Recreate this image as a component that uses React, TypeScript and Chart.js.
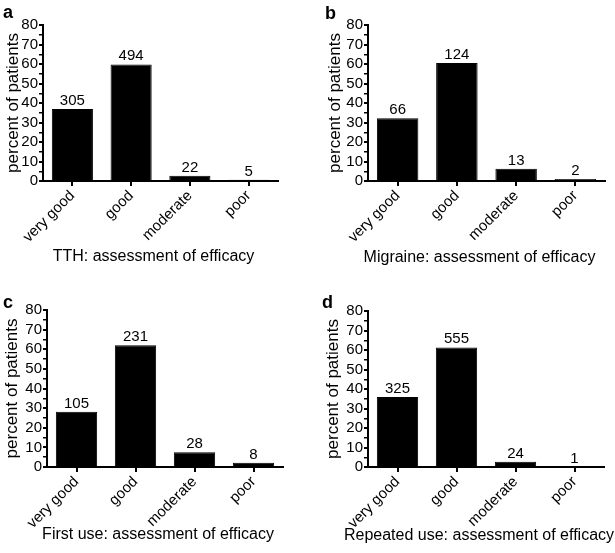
import React, { useEffect, useRef } from "react";
import { Chart, registerables } from "chart.js";

Chart.register(...registerables);

// ---------- data ----------
const categories = ["very good", "good", "moderate", "poor"];
const yTitle = "percent of patients";
const yMin = 0;
const yMax = 80;
const yStep = 10;

const tthPercent = [36.9, 59.8, 2.7, 0.6];
const tthCounts = [305, 494, 22, 5];
const migrainePercent = [32.2, 60.5, 6.3, 1.0];
const migraineCounts = [66, 124, 13, 2];
const firstUsePercent = [28.2, 62.1, 7.5, 2.2];
const firstUseCounts = [105, 231, 28, 8];
const repeatedPercent = [35.9, 61.3, 2.7, 0.1];
const repeatedCounts = [325, 555, 24, 1];

const panelLetters = ["a", "b", "c", "d"];
const xTitles = [
  "TTH: assessment of efficacy",
  "Migraine: assessment of efficacy",
  "First use: assessment of efficacy",
  "Repeated use: assessment of efficacy",
];
const panelPercents = [tthPercent, migrainePercent, firstUsePercent, repeatedPercent];
const panelCounts = [tthCounts, migraineCounts, firstUseCounts, repeatedCounts];

// ---------- layout ----------
const FONT = '"Liberation Sans", Arial, Helvetica, sans-serif';
const layouts = [
  { left: 0, top: 0, width: 300, height: 275, yAxisWidth: 43, padTop: 25, padRight: 22, xAxisHeight: 94, xTitleY: 257, yTitlePad: 3, letterX: 3, letterY: 18 },
  { left: 320, top: 0, width: 295, height: 275, yAxisWidth: 48, padTop: 25, padRight: 10, xAxisHeight: 94, xTitleY: 258, yTitlePad: 5, letterX: 5, letterY: 19 },
  { left: 0, top: 280, width: 300, height: 273, yAxisWidth: 47, padTop: 30, padRight: 17, xAxisHeight: 86, xTitleY: 255, yTitlePad: 2, letterX: 3, letterY: 28 },
  { left: 320, top: 280, width: 295, height: 273, yAxisWidth: 48, padTop: 31, padRight: 11, xAxisHeight: 86, xTitleY: 256, yTitlePad: 3, letterX: 2, letterY: 28 },
];
const xTitleShift = -7;

const annotate = {
  id: "annotate",
  afterDatasetsDraw(chart: any, _args: any, opts: any) {
    const ctx = chart.ctx;
    const meta = chart.getDatasetMeta(0);
    const area = chart.chartArea;
    ctx.save();
    ctx.fillStyle = "#000";
    ctx.font = `15px ${FONT}`;
    ctx.textAlign = "center";
    ctx.textBaseline = "alphabetic";
    meta.data.forEach((bar: any, i: number) => {
      ctx.fillText(String(opts.counts[i]), bar.x, bar.y - 4);
    });
    // x-axis title
    ctx.font = `16px ${FONT}`;
    ctx.textBaseline = "middle";
    ctx.fillText(opts.xTitle, (area.left + area.right) / 2 + xTitleShift, opts.xTitleY);
    // panel letter
    ctx.font = `bold 18px ${FONT}`;
    ctx.textAlign = "left";
    ctx.textBaseline = "alphabetic";
    ctx.fillText(opts.letter, opts.letterX, opts.letterY);
    ctx.restore();
  },
};

function Panel({ index }: { index: number }) {
  const ref = useRef<HTMLCanvasElement | null>(null);
  const L = layouts[index];
  useEffect(() => {
    if (!ref.current) return;
    const chart = new Chart(ref.current, {
      type: "bar",
      data: {
        labels: categories,
        datasets: [
          {
            data: panelPercents[index],
            backgroundColor: "#000",
            borderColor: "#000",
            borderWidth: 1,
            categoryPercentage: 1,
            barPercentage: 0.7,
          },
        ],
      },
      options: {
        responsive: false,
        animation: false,
        devicePixelRatio: 1,
        layout: { padding: { top: L.padTop, right: L.padRight, left: 0, bottom: 0 } },
        plugins: {
          legend: { display: false },
          tooltip: { enabled: false },
          annotate: {
            counts: panelCounts[index],
            letter: panelLetters[index],
            letterX: L.letterX,
            letterY: L.letterY,
            xTitle: xTitles[index],
            xTitleY: L.xTitleY,
          },
        } as any,
        scales: {
          x: {
            afterFit: (s: any) => {
              s.height = L.xAxisHeight;
            },
            grid: {
              display: true,
              drawOnChartArea: false,
              drawTicks: true,
              tickLength: 5,
              color: "#000",
              lineWidth: 2,
              offset: false,
            },
            border: { display: true, color: "#000", width: 2 },
            ticks: {
              minRotation: 45,
              maxRotation: 45,
              autoSkip: false,
              padding: 1,
              color: "#000",
              font: { family: FONT, size: 15 },
            },
          },
          y: {
            min: yMin,
            max: yMax,
            afterFit: (s: any) => {
              s.width = L.yAxisWidth;
            },
            grid: {
              display: true,
              drawOnChartArea: false,
              drawTicks: true,
              tickLength: 4,
              color: "#000",
              lineWidth: (c: any) => (c.tick && c.tick.value % yStep === 0 ? 2 : 1.5),
            },
            border: { display: true, color: "#000", width: 2 },
            ticks: {
              stepSize: yStep / 2,
              autoSkip: false,
              padding: 1,
              color: "#000",
              font: { family: FONT, size: 15 },
              callback: (v: any) => (Number(v) % yStep === 0 ? String(v) : ""),
            },
            title: {
              display: true,
              text: yTitle,
              color: "#000",
              font: { family: FONT, size: 17 },
              padding: { top: L.yTitlePad, bottom: 0 },
            },
          },
        },
      } as any,
      plugins: [annotate],
    });
    return () => chart.destroy();
  }, [index]);
  return (
    <canvas
      ref={ref}
      width={L.width}
      height={L.height}
      style={{ position: "absolute", left: L.left, top: L.top, width: L.width, height: L.height }}
    />
  );
}

export default function App() {
  return (
    <div style={{ position: "absolute", left: 0, top: 0, width: 615, height: 553, background: "#fff" }}>
      {layouts.map((_, i) => (
        <Panel key={i} index={i} />
      ))}
    </div>
  );
}
